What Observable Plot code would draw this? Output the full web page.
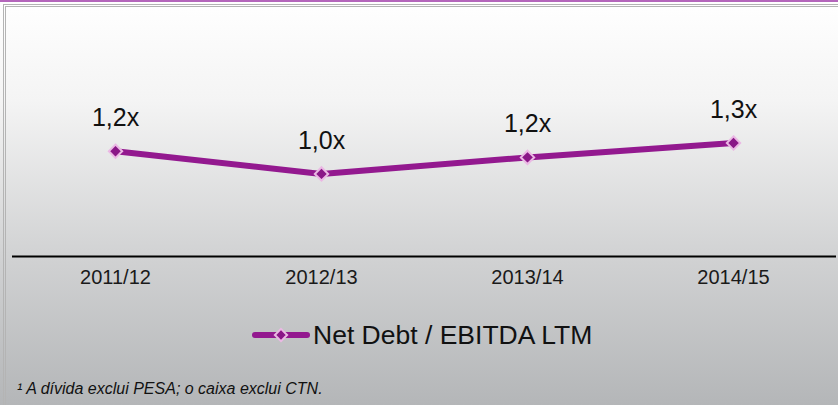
<!DOCTYPE html>
<html>
<head>
<meta charset="utf-8">
<script src="https://cdn.jsdelivr.net/npm/d3@7"></script>
<script src="https://cdn.jsdelivr.net/npm/@observablehq/plot@0.6"></script>
<style>
  html, body { margin: 0; padding: 0; }
  #wrap {
    position: relative; width: 838px; height: 405px; overflow: hidden;
    background: linear-gradient(to bottom, #ffffff 0%, #f4f4f4 25%, #d2d3d4 62%, #b4b6b8 100%);
    font-family: "Liberation Sans", Arial, sans-serif;
  }
  #topline { position: absolute; left: 0; top: 0; width: 838px; height: 2px; background: #b466bb; }
  #box { position: absolute; left: 3px; top: 4px; width: 840px; height: 410px;
    border-top: 3px double #b4b4b4; border-left: 3px double #b4b4b4; box-sizing: border-box; }
  #chart { position: absolute; left: 0; top: 0; }
  #legend { position: absolute; left: 252px; top: 318px; height: 34px; display: flex; align-items: center;
    font-size: 26.5px; color: #111; }
  #footnote { position: absolute; left: 17px; top: 380px; font-size: 16px; font-style: italic; color: #111; }
</style>
</head>
<body>
<div id="wrap">
  <div id="topline"></div>
  <div id="box"></div>
  <div id="chart"></div>
  <div id="legend"></div>
  <div id="footnote"></div>
</div>
<script>
const periods = ["2011/12", "2012/13", "2013/14", "2014/15"];
const ratios = [1.22, 1.00, 1.16, 1.30];
const ratioLabels = ["1,2x", "1,0x", "1,2x", "1,3x"];
const seriesName = "Net Debt / EBITDA LTM";
const footnoteText = "¹ A dívida exclui PESA; o caixa exclui CTN.";
const yDomain = [0.2, 2.68];

const lineColor = "#93198f";
const table = periods.map((p, i) => ({period: p, ratio: ratios[i], label: ratioLabels[i]}));

const svg = Plot.plot({
  width: 838,
  height: 300,
  marginLeft: 12,
  marginRight: 2,
  marginTop: 0,
  marginBottom: 44,
  style: {background: "transparent", fontFamily: "'Liberation Sans', Arial, sans-serif", overflow: "visible"},
  x: {type: "point", domain: periods, padding: 0.5, axis: null},
  y: {domain: yDomain, axis: null},
  marks: [
    Plot.ruleY([yDomain[0]], {stroke: "#000", strokeWidth: 2}),
    Plot.line(table, {x: "period", y: "ratio", stroke: lineColor, strokeWidth: 6}),
    Plot.dot(table, {x: "period", y: "ratio", symbol: "diamond2", r: 6, fill: "#8a1787", stroke: "#ebb8e4", strokeWidth: 2}),
    Plot.text(table, {x: "period", y: "ratio", text: "label", dy: -33, fontSize: 25, fill: "#111"}),
    Plot.text(table, {x: "period", text: "period", frameAnchor: "bottom", dy: 27, fontSize: 20, fill: "#1a1a1a"})
  ]
});
document.getElementById("chart").appendChild(svg);

// legend
const legend = document.getElementById("legend");
const sw = d3.create("svg").attr("width", 58).attr("height", 16).style("overflow", "visible");
sw.append("line").attr("x1", 3).attr("x2", 55).attr("y1", 8).attr("y2", 8)
  .attr("stroke", lineColor).attr("stroke-width", 6).attr("stroke-linecap", "round");
sw.append("path").attr("d", d3.symbol(d3.symbolDiamond2 || d3.symbolDiamond, 95)())
  .attr("transform", "translate(29,8)").attr("fill", "#8a1787").attr("stroke", "#ebb8e4").attr("stroke-width", 2);
legend.appendChild(sw.node());
const lt = document.createElement("span");
lt.textContent = seriesName;
lt.style.marginLeft = "3px";
legend.appendChild(lt);

document.getElementById("footnote").textContent = footnoteText;
</script>
</body>
</html>
